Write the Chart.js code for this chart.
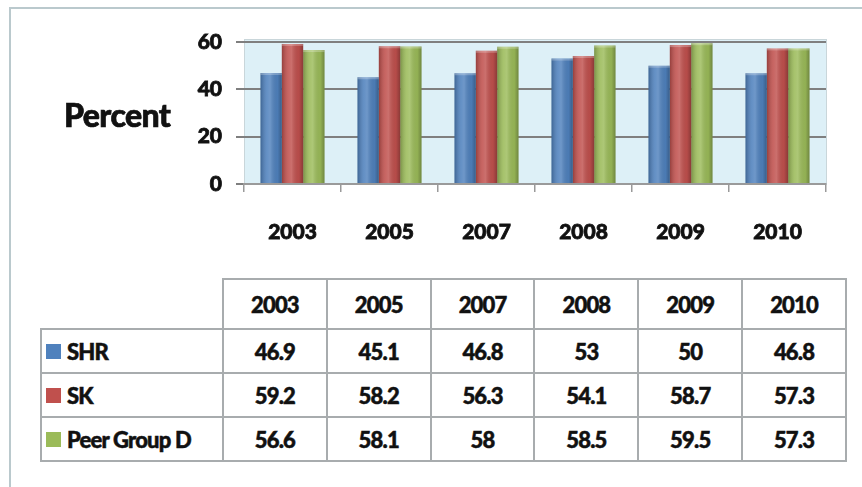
<!DOCTYPE html>
<html>
<head>
<meta charset="utf-8">
<script src="https://cdn.jsdelivr.net/npm/chart.js@4/dist/chart.umd.min.js"></script>
<style>
  html, body { margin: 0; padding: 0; background: #ffffff; }
  body { width: 862px; height: 487px; position: relative; overflow: hidden; font-family: "Lato", "Open Sans", sans-serif; }
  #frame { position: absolute; left: 9px; top: 7px; width: 870px; height: 500px; border-top: 2px solid #bac9cd; border-left: 2px solid #bac9cd; }
  #wrap { position: absolute; left: 0; top: 0; width: 862px; height: 260px; }
  #ytitle { position: absolute; left: 64px; top: 95px; font-size: 32px; font-weight: 900; color: #111; letter-spacing: -0.6px; -webkit-text-stroke: 0.7px #111; }
  table { position: absolute; left: 40px; top: 278px; border-collapse: collapse; table-layout: fixed; width: 807px; font-size: 22px; font-weight: 900; color: #111; }
  td { border: 2px solid #a8acae; text-align: center; height: 42px; padding: 0; letter-spacing: -0.8px; -webkit-text-stroke: 0.5px #111; white-space: nowrap; overflow: hidden; }
  td.lab { text-align: left; padding-left: 4px; }
  td.blank { border-top: none; border-left: none; }
  tr.head td { height: 48px; }
  .sw { display: inline-block; width: 15px; height: 15px; margin-right: 6px; vertical-align: 1px; -webkit-text-stroke: 0; }
</style>
</head>
<body>
<div id="frame"></div>
<div id="wrap"><canvas id="c" width="862" height="260"></canvas></div>
<div id="ytitle">Percent</div>
<table id="tbl"></table>
<script>
const categories = ["2003", "2005", "2007", "2008", "2009", "2010"];
const seriesNames = ["SHR", "SK", "Peer Group D"];
const shr = [46.9, 45.1, 46.8, 53, 50, 46.8];
const sk = [59.2, 58.2, 56.3, 54.1, 58.7, 57.3];
const peer = [56.6, 58.1, 58, 58.5, 59.5, 57.3];
const yTicks = [0, 20, 40, 60];
const colors = ["#4f81bd", "#c0504d", "#9bbb59"];
const seriesValues = [shr, sk, peer];

// Build data table
const tbl = document.getElementById('tbl');
let html = '<colgroup><col style="width:182px">' + categories.map(() => '<col>').join('') + '</colgroup>';
html += '<tr class="head"><td class="lab blank"></td>' + categories.map(c => '<td>' + c + '</td>').join('') + '</tr>';
seriesNames.forEach((n, i) => {
  html += '<tr><td class="lab"><span class="sw" style="background:' + colors[i] + '"></span>' + n + '</td>' +
    seriesValues[i].map(v => '<td>' + v + '</td>').join('') + '</tr>';
});
tbl.innerHTML = html;

const plotBg = {
  id: 'plotBg',
  beforeDraw(chart) {
    const { ctx, chartArea: a } = chart;
    ctx.save();
    ctx.fillStyle = '#ddf0f7';
    ctx.fillRect(a.left, a.top - 3, a.right - a.left, a.bottom - a.top + 3);
    ctx.strokeStyle = '#c9d6da';
    ctx.lineWidth = 1;
    ctx.strokeRect(a.left + 0.5, a.top - 2.5, a.right - a.left, a.bottom - a.top + 3);
    ctx.restore();
  }
};

const shade = {
  id: 'shade',
  afterDatasetsDraw(chart) {
    const ctx = chart.ctx;
    chart.data.datasets.forEach((ds, i) => {
      chart.getDatasetMeta(i).data.forEach(bar => {
        const l = bar.x - bar.width / 2, r = bar.x + bar.width / 2;
        const g = ctx.createLinearGradient(l, 0, r, 0);
        g.addColorStop(0, 'rgba(0,0,0,0.22)');
        g.addColorStop(0.3, 'rgba(255,255,255,0.12)');
        g.addColorStop(0.45, 'rgba(255,255,255,0.18)');
        g.addColorStop(0.8, 'rgba(0,0,0,0.05)');
        g.addColorStop(1, 'rgba(0,0,0,0.28)');
        ctx.save();
        ctx.fillStyle = g;
        ctx.fillRect(l, bar.y, bar.width, bar.base - bar.y);
        ctx.fillStyle = 'rgba(255,255,255,0.25)';
        ctx.fillRect(l, bar.y, bar.width, 2);
        ctx.restore();
      });
    });
  }
};

const tickFont = { family: 'Lato', size: 21, weight: '900' };

new Chart(document.getElementById('c'), {
  type: 'bar',
  data: {
    labels: categories,
    datasets: seriesNames.map((n, i) => ({
      label: n,
      data: seriesValues[i],
      backgroundColor: colors[i],
      borderWidth: 0,
      categoryPercentage: 0.66,
      barPercentage: 1.0
    }))
  },
  options: {
    responsive: false,
    animation: false,
    devicePixelRatio: 1,
    layout: { padding: { top: 42, right: 36, left: 0, bottom: 0 } },
    plugins: { legend: { display: false }, tooltip: { enabled: false } },
    scales: {
      x: {
        afterFit(s) { s.height = 260 - 184; },
        grid: { offset: true, drawOnChartArea: false, tickLength: 8, color: '#9a9a9a', lineWidth: 1.5 },
        border: { color: '#9a9a9a', width: 2 },
        ticks: { padding: 28, color: '#111', font: tickFont, textStrokeColor: '#111', textStrokeWidth: 0.8 }
      },
      y: {
        min: 0, max: 60,
        afterFit(s) { s.width = 244; },
        afterBuildTicks(s) { s.ticks = yTicks.map(v => ({ value: v })); },
        grid: { color: '#7f7f7f', lineWidth: 2, tickLength: 8, drawTicks: true },
        border: { display: false },
        ticks: { padding: 14, color: '#111', font: tickFont, textStrokeColor: '#111', textStrokeWidth: 0.8 }
      }
    }
  },
  plugins: [plotBg, shade]
});
</script>
</body>
</html>
